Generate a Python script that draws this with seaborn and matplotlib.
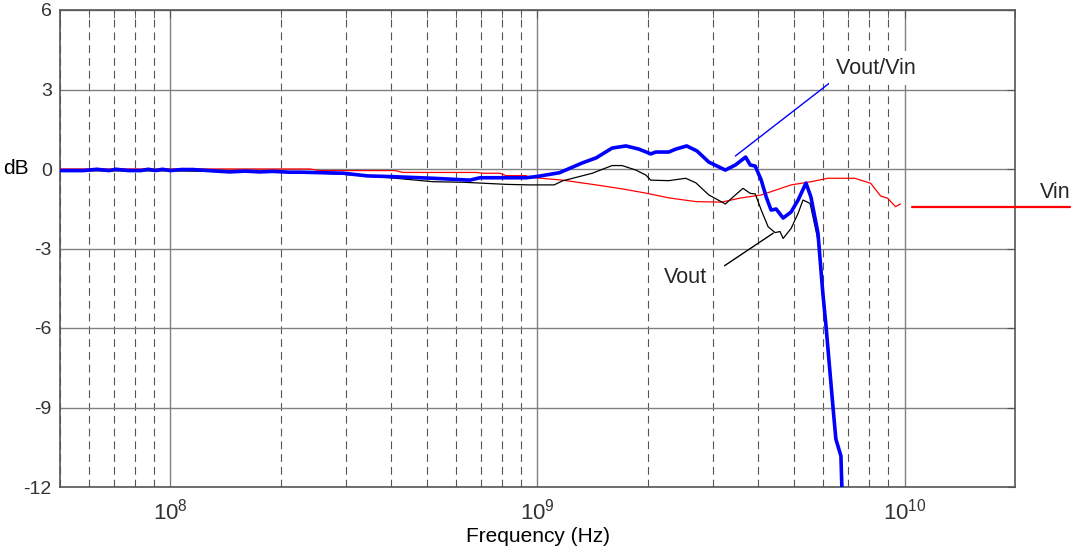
import matplotlib
matplotlib.use('Agg')
import matplotlib.pyplot as plt
import seaborn as sns
from matplotlib.ticker import LogLocator, NullFormatter

sns.set_style('white')
plt.rcParams['font.family'] = ['Liberation Sans', 'DejaVu Sans']
plt.rcParams['axes.unicode_minus'] = False

# Vout/Vin (blue, thick)
ratio_freq = [5.0e7, 5.8e7, 6.3e7, 6.8e7, 7.1e7, 7.7e7, 8.3e7, 8.7e7, 9.1e7, 9.5e7,
              1.0e8, 1.07e8, 1.15e8, 1.3e8, 1.45e8, 1.6e8, 1.75e8, 1.9e8, 2.1e8, 2.26e8,
              2.96e8, 3.44e8, 4.05e8, 5.19e8, 6.54e8, 6.97e8, 9.33e8, 1.0e9, 1.148e9, 1.325e9,
              1.445e9, 1.597e9, 1.742e9, 1.89e9, 2.035e9, 2.10e9, 2.278e9, 2.38e9, 2.55e9, 2.72e9,
              2.93e9, 3.25e9, 3.46e9, 3.69e9, 3.80e9, 3.92e9, 4.07e9, 4.20e9, 4.33e9, 4.47e9,
              4.67e9, 4.91e9, 5.13e9, 5.39e9, 5.56e9, 5.81e9, 5.99e9, 6.11e9, 6.38e9, 6.50e9,
              6.71e9, 6.75e9, 6.77e9]
ratio_db = [-0.06, -0.06, -0.01, -0.06, -0.01, -0.06, -0.06, -0.01, -0.06, -0.01,
            -0.06, -0.02, -0.02, -0.07, -0.11, -0.08, -0.11, -0.09, -0.12, -0.12,
            -0.16, -0.26, -0.29, -0.35, -0.42, -0.33, -0.33, -0.28, -0.14, 0.23,
            0.42, 0.79, 0.87, 0.75, 0.57, 0.64, 0.64, 0.75, 0.87, 0.68,
            0.26, -0.04, 0.15, 0.45, 0.15, 0.11, -0.42, -1.06, -1.55, -1.51,
            -1.85, -1.62, -1.17, -0.53, -1.06, -2.42, -4.68, -5.92, -8.94, -10.19,
            -10.83, -12.0, -12.5]

# Vin (red, thin)
vin_freq = [5.0e7, 2.4e8, 2.55e8, 4.1e8, 4.3e8, 6.8e8, 7.1e8, 7.9e8, 8.2e8, 9.3e8,
            9.51e8, 1.169e9, 1.445e9, 1.70e9, 1.974e9, 2.279e9, 2.70e9, 3.17e9, 3.59e9, 4.07e9,
            4.91e9, 5.56e9, 6.18e9, 7.32e9, 8.09e9, 8.61e9, 8.99e9, 9.45e9, 9.75e9]
vin_db = [0.0, 0.0, -0.06, -0.06, -0.13, -0.13, -0.16, -0.16, -0.25, -0.25,
          -0.31, -0.42, -0.6, -0.75, -0.91, -1.09, -1.23, -1.25, -1.09, -0.98,
          -0.6, -0.48, -0.35, -0.35, -0.54, -1.02, -1.1, -1.42, -1.32]

# Vout (black, thin)
vout_freq = [5.0e7, 1.0e8, 1.5e8, 2.26e8, 2.96e8, 3.97e8, 5.19e8, 6.27e8, 8.24e8, 9.5e8,
             1.11e9, 1.169e9, 1.41e9, 1.597e9, 1.70e9, 1.853e9, 1.974e9, 2.035e9, 2.278e9, 2.534e9,
             2.70e9, 2.93e9, 3.25e9, 3.46e9, 3.63e9, 3.80e9, 3.92e9, 4.07e9, 4.25e9, 4.44e9,
             4.58e9, 4.67e9, 4.91e9, 5.13e9, 5.29e9, 5.53e9, 5.81e9, 5.99e9, 6.11e9, 6.38e9,
             6.50e9, 6.71e9, 6.75e9, 6.77e9]
vout_db = [-0.07, -0.07, -0.1, -0.12, -0.2, -0.33, -0.48, -0.5, -0.58, -0.6,
           -0.6, -0.45, -0.16, 0.13, 0.13, -0.04, -0.23, -0.42, -0.44, -0.35,
           -0.52, -0.98, -1.32, -0.98, -0.73, -0.92, -0.94, -1.55, -2.18, -2.4,
           -2.36, -2.62, -2.24, -1.67, -1.17, -1.3, -2.68, -4.75, -5.95, -8.95,
           -10.2, -10.85, -12.0, -12.5]

y_ticks = [-12, -9, -6, -3, 0, 3, 6]
y_labels = ['-12', '-9', '-6', '-3', '0', '3', '6']

fig = plt.figure(figsize=(10.73, 5.55), dpi=100)
ax = fig.add_axes([60 / 1073, 68 / 555, 955 / 1073, 477 / 555])

sns.lineplot(x=vin_freq, y=vin_db, ax=ax, color='#ff0000', lw=0.9, sort=False, zorder=4)
sns.lineplot(x=vout_freq, y=vout_db, ax=ax, color='black', lw=0.9, sort=False, zorder=5)
sns.lineplot(x=ratio_freq, y=ratio_db, ax=ax, color='#0000ff', lw=2.6, sort=False, zorder=6)

ax.set_xscale('log')
ax.set_xlim(5e7, 2e10)
ax.set_ylim(-12, 6)
ax.set_yticks(y_ticks)
ax.set_yticklabels(y_labels)
ax.xaxis.set_major_locator(LogLocator(base=10))
ax.xaxis.set_minor_locator(LogLocator(base=10, subs=[2, 3, 4, 5, 6, 7, 8, 9]))
ax.xaxis.set_minor_formatter(NullFormatter())

ax.set_axisbelow(True)
ax.grid(which='major', axis='both', color='#808080', lw=1.0, ls='-')
ax.grid(which='minor', axis='x', color='#555555', lw=0.8, ls=(0, (7, 4.5)))

for s in ax.spines.values():
    s.set_color('#555555')
    s.set_linewidth(1.2)
ax.tick_params(which='both', direction='in', top=True, right=True, colors='#555555',
               labelcolor='#333333', labelsize=14)
ax.tick_params(which='major', length=6)
ax.tick_params(which='minor', length=6)
ax.tick_params(axis='x', which='major', pad=8, labelsize=16)
ax.tick_params(axis='y', which='major', pad=6)

ax.set_xlabel('Frequency (Hz)', fontsize=15, color='black', labelpad=2)
ax.set_ylabel('dB', fontsize=15, color='black', rotation=0, va='center', ha='center')
ax.yaxis.set_label_coords(-0.046, 12 / 18)

# annotations
ax.plot([3.46e9, 6.46e9], [0.49, 3.40], color='#0000ff', lw=1.0, zorder=3)
ax.text(6.50e9, 3.81, 'Vout/Vin    ', fontsize=15.5, ha='left', va='center', zorder=3,
        bbox=dict(boxstyle='square,pad=0.3', fc='white', ec='none'))

ax.plot([3.233e9, 4.39e9], [-3.65, -2.42], color='black', lw=1.0, zorder=3)
ax.text(2.889e9, -4.08, 'Vout', fontsize=15.5, ha='right', va='center', zorder=3,
        bbox=dict(boxstyle='square,pad=0.3', fc='white', ec='none'))

ax.plot([1.051e10, 2.82e10], [-1.43, -1.43], color='#ff0000', lw=1.6, clip_on=False, zorder=3)
ax.text(2.835e10, -0.87, 'Vin', fontsize=15.5, ha='right', va='center', clip_on=False)

fig.savefig('out.png', dpi=100)
